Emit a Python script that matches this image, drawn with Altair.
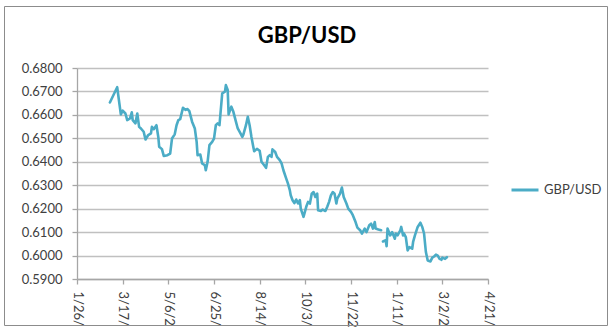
import altair as alt
import pandas as pd

dates = [
    "2010-03-03", "2010-03-11", "2010-03-15", "2010-03-17", "2010-03-20", "2010-03-22", "2010-03-25",
    "2010-03-27", "2010-03-28", "2010-03-31", "2010-04-02", "2010-04-04", "2010-04-06", "2010-04-09",
    "2010-04-11", "2010-04-14", "2010-04-17", "2010-04-18", "2010-04-20", "2010-04-23", "2010-04-25",
    "2010-04-26", "2010-04-29", "2010-05-01", "2010-05-05", "2010-05-08", "2010-05-10", "2010-05-13",
    "2010-05-15", "2010-05-17", "2010-05-19", "2010-05-22", "2010-05-25", "2010-05-27", "2010-05-29",
    "2010-06-01", "2010-06-04", "2010-06-06", "2010-06-07", "2010-06-10", "2010-06-12", "2010-06-15",
    "2010-06-16", "2010-06-18", "2010-06-20", "2010-06-23", "2010-06-25", "2010-06-27", "2010-06-29",
    "2010-07-01", "2010-07-04", "2010-07-07", "2010-07-08", "2010-07-10", "2010-07-11", "2010-07-14",
    "2010-07-16", "2010-07-19", "2010-07-21", "2010-07-24", "2010-07-26", "2010-07-27", "2010-07-30",
    "2010-08-01", "2010-08-03", "2010-08-05", "2010-08-07", "2010-08-08", "2010-08-11", "2010-08-14",
    "2010-08-16", "2010-08-19", "2010-08-21", "2010-08-23", "2010-08-25", "2010-08-27", "2010-08-28",
    "2010-08-31", "2010-09-02", "2010-09-05", "2010-09-07", "2010-09-09", "2010-09-12", "2010-09-14",
    "2010-09-16", "2010-09-17", "2010-09-19", "2010-09-21", "2010-09-23", "2010-09-25", "2010-09-27",
    "2010-09-28", "2010-10-01", "2010-10-04", "2010-10-06", "2010-10-08", "2010-10-10", "2010-10-12",
    "2010-10-14", "2010-10-16", "2010-10-17", "2010-10-20", "2010-10-22", "2010-10-25", "2010-10-27",
    "2010-10-29", "2010-10-31", "2010-11-02", "2010-11-04", "2010-11-06", "2010-11-07", "2010-11-10",
    "2010-11-12", "2010-11-14", "2010-11-17", "2010-11-19", "2010-11-22", "2010-11-24", "2010-11-27",
    "2010-11-29", "2010-12-02", "2010-12-04", "2010-12-07", "2010-12-09", "2010-12-12", "2010-12-14",
    "2010-12-16", "2010-12-18", "2010-12-19", "2010-12-22", "2010-12-25", "2010-12-26", "2010-12-27",
    "2010-12-30", "2010-12-31", "2011-01-01", "2011-01-04", "2011-01-06", "2011-01-09", "2011-01-10",
    "2011-01-12", "2011-01-15", "2011-01-16", "2011-01-18", "2011-01-19", "2011-01-21", "2011-01-23",
    "2011-01-25", "2011-01-28", "2011-01-29", "2011-01-31", "2011-02-03", "2011-02-06", "2011-02-08",
    "2011-02-10", "2011-02-12", "2011-02-14", "2011-02-17", "2011-02-19", "2011-02-21", "2011-02-23",
    "2011-02-25", "2011-02-27", "2011-02-28", "2011-03-01", "2011-03-02", "2011-03-05", "2011-03-07",
]

gbp_usd = [
    0.6653, 0.6718, 0.6602, 0.6618, 0.6606, 0.6578, 0.6585,
    0.6611, 0.6578, 0.6564, 0.6606, 0.6549, 0.6542, 0.6528,
    0.6495, 0.6514, 0.6521, 0.6549, 0.6539, 0.6556, 0.6506,
    0.6464, 0.6454, 0.6425, 0.6428, 0.6435, 0.6499, 0.6517,
    0.6556, 0.6578, 0.6582, 0.6630, 0.6621, 0.6625, 0.6616,
    0.6571, 0.6542, 0.6485, 0.6428, 0.6431, 0.6393, 0.6385,
    0.6364, 0.6400, 0.6471, 0.6485, 0.6499, 0.6556, 0.6564,
    0.6556, 0.6692, 0.6699, 0.6727, 0.6706, 0.6602, 0.6635,
    0.6616, 0.6571, 0.6542, 0.6521, 0.6506, 0.6514, 0.6556,
    0.6592, 0.6556, 0.6506, 0.6464, 0.6445, 0.6455, 0.6447,
    0.6400, 0.6385, 0.6374, 0.6421, 0.6428, 0.6421, 0.6453,
    0.6442, 0.6421, 0.6407, 0.6393, 0.6364, 0.6329, 0.6307,
    0.6279, 0.6257, 0.6236, 0.6224, 0.6239, 0.6222, 0.6236,
    0.6200, 0.6165, 0.6208, 0.6229, 0.6222, 0.6264, 0.6271,
    0.6250, 0.6264, 0.6193, 0.6190, 0.6196, 0.6190, 0.6208,
    0.6229, 0.6257, 0.6271, 0.6264, 0.6222, 0.6243, 0.6264,
    0.6290, 0.6250, 0.6222, 0.6200, 0.6186, 0.6172, 0.6143,
    0.6119, 0.6108, 0.6094, 0.6115, 0.6100, 0.6129, 0.6136,
    0.6115, 0.6143, 0.6115, 0.6111, 0.6108, None, 0.6060,
    0.6065, 0.6040, 0.6115, 0.6086, 0.6100, 0.6072, 0.6094,
    0.6086, 0.6108, 0.6122, 0.6086, 0.6094, 0.6079, 0.6022,
    0.6036, 0.6029, 0.6058, 0.6086, 0.6122, 0.6140, 0.6122,
    0.6094, 0.6015, 0.5979, 0.5975, 0.5991, 0.5996, 0.6004,
    0.6000, 0.5986, None, 0.5982, 0.5991, 0.5986, 0.5993,
]

series_name = "GBP/USD"
y_ticks = [0.59, 0.60, 0.61, 0.62, 0.63, 0.64, 0.65, 0.66, 0.67, 0.68]
x_ticks = [(2010, 1, 26), (2010, 3, 17), (2010, 5, 6), (2010, 6, 25), (2010, 8, 14),
           (2010, 10, 3), (2010, 11, 22), (2011, 1, 11), (2011, 3, 2), (2011, 4, 21)]

df = pd.DataFrame({"date": pd.to_datetime(dates), "value": gbp_usd, "series": series_name})
lab = pd.DataFrame({"t": [series_name]})

FONT = "Lato"
tick_dt = [alt.DateTime(year=y, month=m, date=d) for (y, m, d) in x_ticks]

line = alt.Chart(df).mark_line(
    strokeWidth=2.6, strokeJoin="round", strokeCap="round",
    invalid="break-paths-show-domains",
).encode(
    x=alt.X("date:T",
            scale=alt.Scale(domain=[tick_dt[0], tick_dt[-1]]),
            axis=alt.Axis(values=tick_dt,
                          labelExpr="substring(timeFormat(datum.value, '%-m/%-d/%Y'), 0, 5)",
                          labelAngle=90, labelAlign="left", labelBaseline="middle",
                          labelPadding=7, grid=False, title=None, tickSize=5, labelFontSize=13)),
    y=alt.Y("value:Q",
            scale=alt.Scale(domain=[0.59, 0.68], nice=False, zero=False),
            axis=alt.Axis(values=y_ticks, format=".4f", grid=True, title=None,
                          tickSize=5, labelFontSize=13, labelPadding=10)),
    color=alt.Color("series:N", scale=alt.Scale(range=["#4bacc6"]),
                    legend=alt.Legend(title=None, orient="none", legendX=433, legendY=107,
                                      symbolType="stroke", symbolSize=729, symbolStrokeWidth=3,
                                      labelFontSize=13, labelOffset=4, padding=0,
                                      labelFont=FONT, labelColor="#404040")),
)

title = alt.Chart(lab).mark_text(
    font=FONT, fontSize=22, fontWeight="bold", color="#000000", align="center", baseline="middle"
).encode(x=alt.value(230), y=alt.value(-32), text="t:N")

border = alt.Chart(lab).mark_rect(
    filled=False, stroke="#8c8c8c", strokeWidth=1, clip=False
).encode(x=alt.value(-72.5), x2=alt.value(530.5), y=alt.value(-61.5), y2=alt.value(257.5))

chart = alt.layer(border, line, title).properties(
    width=411, height=211,
    autosize=alt.AutoSizeParams(type="none"),
    padding={"left": 77, "top": 68, "right": 124, "bottom": 50},
    background="white",
).configure_view(stroke=None).configure_axis(
    labelFont=FONT, labelColor="#404040", domainColor="#a6a6a6", tickColor="#a6a6a6",
    gridColor="#c0c0c0", gridWidth=1.3, domainWidth=1.3, tickWidth=1.3,
)

chart.save("out.html", embed_options={"renderer": "svg", "actions": False})
